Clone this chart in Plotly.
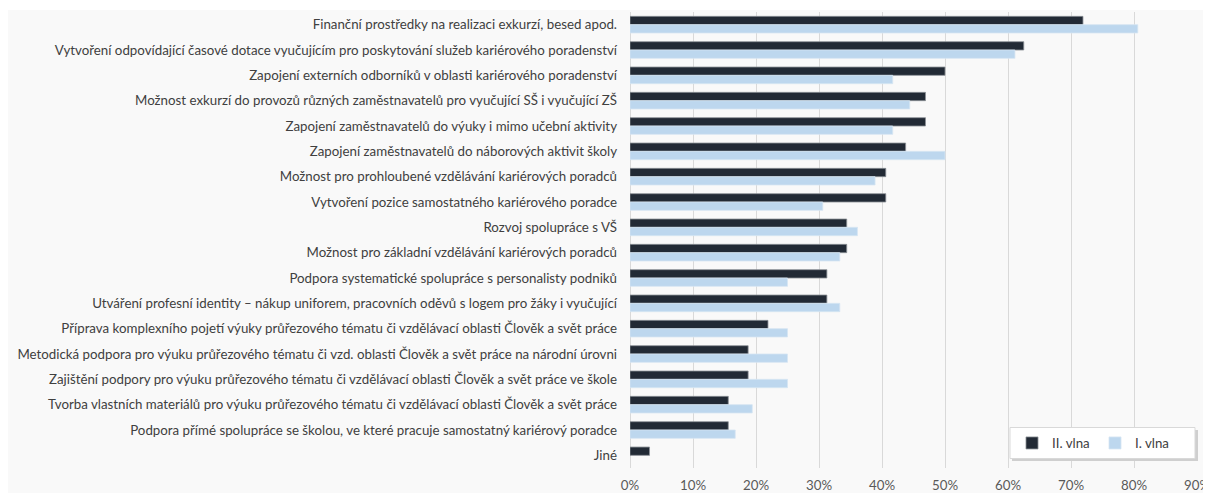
import plotly.graph_objects as go

categories = [
    "Finanční prostředky na realizaci exkurzí, besed apod.",
    "Vytvoření odpovídající časové dotace vyučujícím pro poskytování služeb kariérového poradenství",
    "Zapojení externích odborníků v oblasti kariérového poradenství",
    "Možnost exkurzí do provozů různých zaměstnavatelů pro vyučující SŠ i vyučující ZŠ",
    "Zapojení zaměstnavatelů do výuky i mimo učební aktivity",
    "Zapojení zaměstnavatelů do náborových aktivit školy",
    "Možnost pro prohloubené vzdělávání kariérových poradců",
    "Vytvoření pozice samostatného kariérového poradce",
    "Rozvoj spolupráce s VŠ",
    "Možnost pro základní vzdělávání kariérových poradců",
    "Podpora systematické spolupráce s personalisty podniků",
    "Utváření profesní identity – nákup uniforem, pracovních oděvů s logem pro žáky i vyučující",
    "Příprava komplexního pojetí výuky průřezového tématu či vzdělávací oblasti Člověk a svět práce",
    "Metodická podpora pro výuku průřezového tématu či vzd. oblasti Člověk a svět práce na národní úrovni",
    "Zajištění podpory pro výuku průřezového tématu či vzdělávací oblasti Člověk a svět práce ve škole",
    "Tvorba vlastních materiálů pro výuku průřezového tématu či vzdělávací oblasti Člověk a svět práce",
    "Podpora přímé spolupráce se školou, ve které pracuje samostatný kariérový poradce",
    "Jiné",
]

vlna2 = [0.719, 0.625, 0.500, 0.469, 0.469, 0.4375, 0.406, 0.406, 0.344, 0.344,
         0.3125, 0.3125, 0.219, 0.1875, 0.1875, 0.156, 0.156, 0.031]
vlna1 = [0.806, 0.611, 0.417, 0.444, 0.417, 0.500, 0.389, 0.306, 0.361, 0.333,
         0.250, 0.333, 0.250, 0.250, 0.250, 0.194, 0.167, None]

series_names = ["II. vlna", "I. vlna"]
x_ticks = [0, 0.1, 0.2, 0.3, 0.4, 0.5, 0.6, 0.7, 0.8, 0.9]

FONT = "Lato"
FS = 13.3

fig = go.Figure()
fig.add_trace(go.Bar(
    y=categories, x=vlna2, orientation="h", name=series_names[0],
    marker=dict(color="#222a35", line=dict(color="#8a8f96", width=0.8)),
))
fig.add_trace(go.Bar(
    y=categories, x=vlna1, orientation="h", name=series_names[1],
    marker=dict(color="#bdd7ee", line=dict(color="#d6e5f3", width=0.8)),
))

# figure sits at (8, 8) in the page (body margin)
W, H = 1203, 485
L, R, T, B = 622, 14, 4, 25
pw, ph = W - L - R, H - T - B

def px_x(x):
    return (x - L) / pw

def px_y(y):
    return (H - B - y) / ph

fig.update_layout(
    width=W, height=H,
    margin=dict(l=L, r=R, t=T, b=B, autoexpand=False),
    paper_bgcolor="#f9f9f9",
    plot_bgcolor="#f9f9f9",
    barmode="group",
    bargap=0.345,
    bargroupgap=0.0,
    font=dict(family=FONT, size=FS, color="#404040"),
    showlegend=True,
    legend=dict(
        orientation="h",
        x=px_x(1004), xanchor="left",
        y=px_y(435.3), yanchor="middle",
        bgcolor="rgba(0,0,0,0)",
        font=dict(family=FONT, size=FS, color="#404040"),
        traceorder="normal",
        entrywidth=38,
        itemwidth=30,
    ),
    xaxis=dict(
        range=[0, 0.9],
        tickvals=x_ticks,
        tickformat=".0%",
        showgrid=True, gridcolor="#d9d9d9", gridwidth=1,
        zeroline=True, zerolinecolor="#d9d9d9", zerolinewidth=1,
        showline=False,
        tickfont=dict(family=FONT, size=FS, color="#595959"),
        ticklabelstandoff=8,
        fixedrange=True,
    ),
    yaxis=dict(
        autorange="reversed",
        showgrid=False,
        showline=False,
        tickfont=dict(family=FONT, size=FS, color="#404040"),
        ticklabelstandoff=12,
        fixedrange=True,
    ),
    shapes=[
        # thin white strip at the very top
        dict(type="rect", xref="paper", yref="paper", x0=px_x(0), x1=px_x(W),
             y0=px_y(2), y1=px_y(0), fillcolor="white", line=dict(width=0), layer="below"),
        # legend box shadow and box
        dict(type="rect", xref="paper", yref="paper", x0=px_x(1004), x1=px_x(1190),
             y0=px_y(453), y1=px_y(422), fillcolor="#cfcfcf", line=dict(width=0), layer="above"),
        dict(type="rect", xref="paper", yref="paper", x0=px_x(1002), x1=px_x(1187),
             y0=px_y(450.5), y1=px_y(419.5), fillcolor="white", line=dict(color="#d9d9d9", width=1), layer="above"),
    ],
)

fig.write_html("out.html")
